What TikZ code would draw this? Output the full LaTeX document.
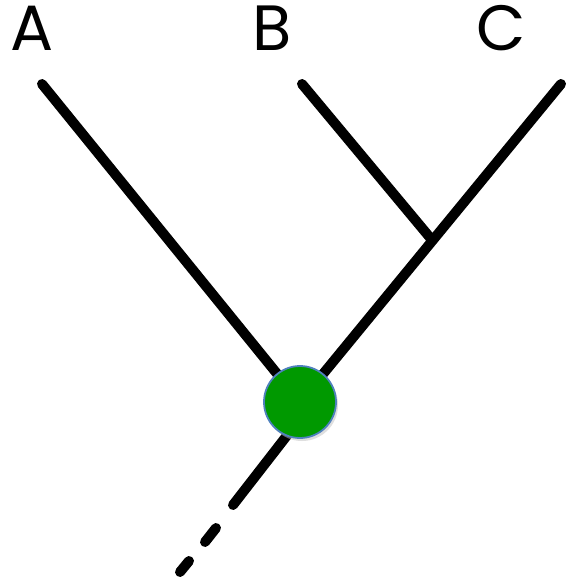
\documentclass[tikz,border=0pt]{standalone}
\usepackage{fontspec}
\setmainfont{Poppins}
\begin{document}
\begin{tikzpicture}[x=1pt,y=-1pt,
  branch/.style={line width=10pt,line cap=round,black},
  taxon/.style={font=\fontsize{64}{64}\selectfont,inner sep=0pt,anchor=center},
  ancestor/.style={circle,fill=nodegreen,draw=nodeblue,line width=1.8pt,minimum size=72pt,inner sep=0pt}]
\definecolor{nodegreen}{RGB}{0,153,0}
\definecolor{nodeblue}{RGB}{79,129,189}
\useasboundingbox (0,0) rectangle (586,583);
\node[taxon] (A) at (32,28) {A};
\node[taxon] (B) at (272,28) {B};
\node[taxon] (C) at (501,28) {C};
\coordinate (a) at (42,84);
\coordinate (b) at (302,84);
\coordinate (c) at (561,84);
\coordinate (j) at (432,240);
\coordinate (r) at (300,402);
\coordinate (rt) at (313,402);
\coordinate (d1) at (233,505);
\coordinate (d2s) at (216,528);
\coordinate (d2e) at (205,542);
\coordinate (d3s) at (189,561);
\coordinate (d3e) at (180,572);
\draw[branch] (a) -- (r);
\draw[branch] (c) -- (r);
\draw[branch] (b) -- (j);
\draw[branch] (rt) -- (d1);
\draw[branch] (d2s) -- (d2e);
\draw[branch] (d3s) -- (d3e);
\fill[black!25,opacity=0.5] (302,405) circle (36pt);
\node[ancestor] (root) at (r) {};
\end{tikzpicture}
\end{document}
